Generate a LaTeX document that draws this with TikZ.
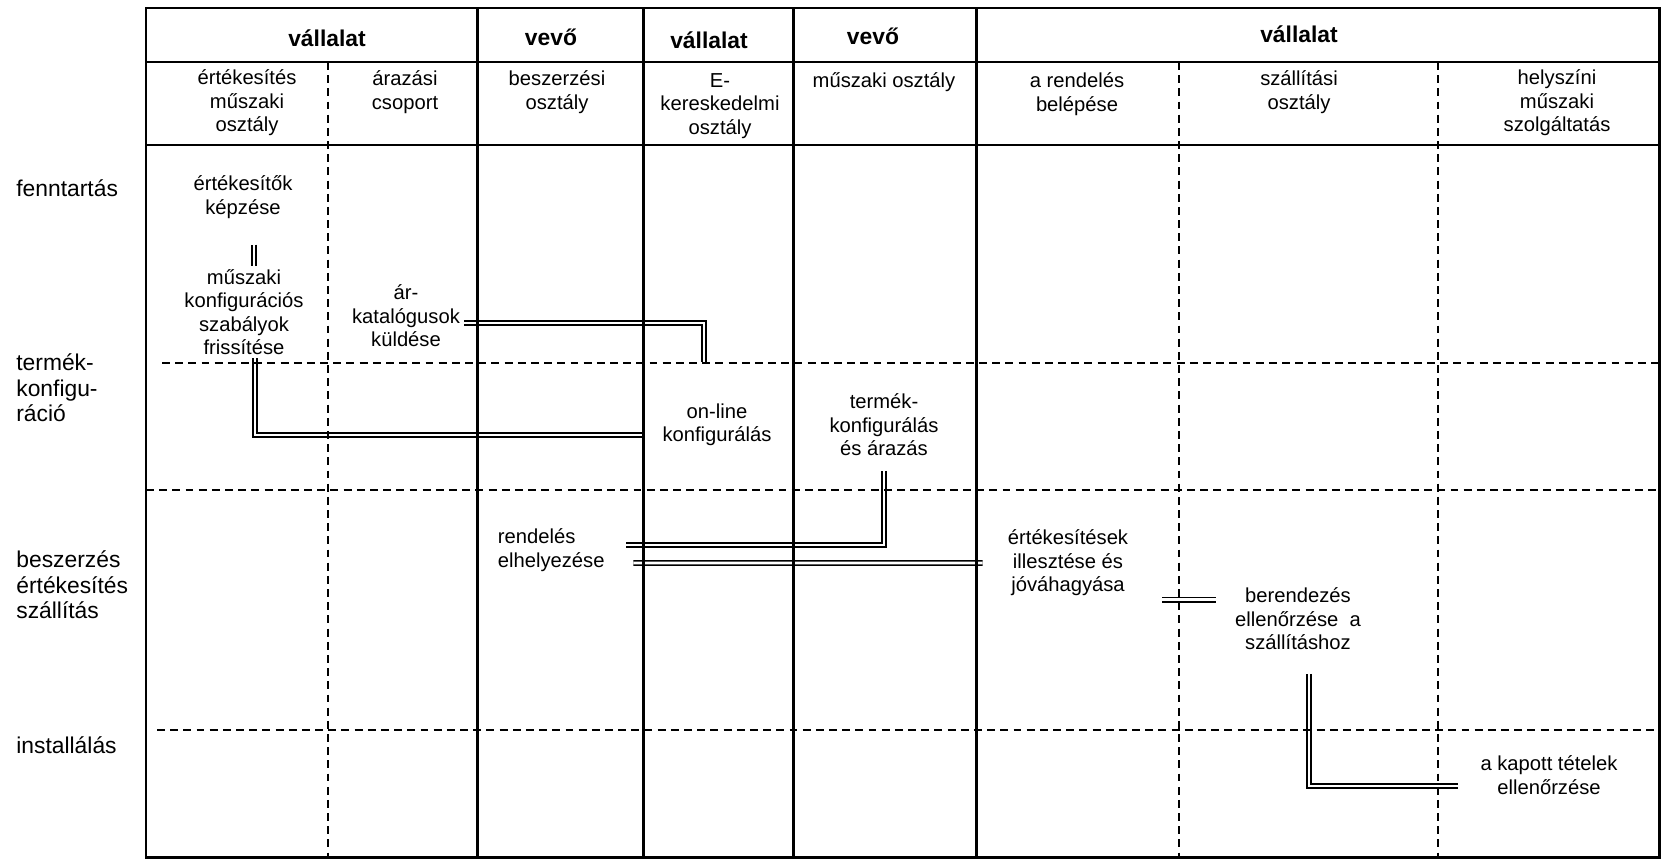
\documentclass[tikz,border=0pt]{standalone}
\usepackage{fontspec}
\setmainfont{Liberation Sans}

\begin{document}
\begin{tikzpicture}[
    x=0.02cm, y=-0.02cm,
    frame/.style={line width=1.7pt},
    rule/.style={line width=1pt},
    divider/.style={line width=1pt, dash pattern=on 4.5pt off 3pt},
    head/.style={font=\bfseries\fontsize{13}{15}\selectfont},
    dept/.style={align=center, inner sep=2pt, font=\fontsize{11.5}{13.3}\selectfont},
    task/.style={align=center, inner sep=2pt, font=\fontsize{11.5}{13.3}\selectfont},
    phase/.style={anchor=west, align=left, inner sep=0pt, font=\fontsize{13}{14.6}\selectfont},
    link/.style={double, double distance=1.6pt, line width=0.9pt}
]
    \useasboundingbox (0,0) rectangle (1662,859);

    \node[head] (hvall1) at (327,38) {vállalat};
    \node[head] (hvevo1) at (551,37) {vevő};
    \node[head] (hvall2) at (709,40) {vállalat};
    \node[head] (hvevo2) at (873,36) {vevő};
    \node[head] (hvall3) at (1299,34) {vállalat};

    \node[dept] (ert) at (247,103) {értékesítés\\műszaki\\osztály};
    \node[dept] (araz) at (405,92) {árazási\\csoport};
    \node[dept] (besz) at (557,92) {beszerzési\\osztály};
    \node[dept] (ekesk) at (720,106) {E-\\kereskedelmi\\osztály};
    \node[dept] (muszaki) at (884,82) {műszaki osztály};
    \node[dept] (rendbel) at (1077,94) {a rendelés\\belépése};
    \node[dept] (szall) at (1299,92) {szállítási\\osztály};
    \node[dept] (helysz) at (1557,103) {helyszíni\\műszaki\\szolgáltatás};

    \node[phase] (fennt) at (16,188) {fenntartás};
    \node[phase] (konfig) at (16,388) {termék-\\konfigu-\\ráció};
    \node[phase] (ertek) at (16,585) {beszerzés\\értékesítés\\szállítás};
    \node[phase] (install) at (16,745) {installálás};

    \node[task] (kepzes) at (243,197) {értékesítők\\képzése};
    \node[task] (szabaly) at (244,312) {műszaki\\konfigurációs\\szabályok\\frissítése};
    \node[task] (katalog) at (406,316) {ár-\\katalógusok\\küldése};
    \node[task] (online) at (717,425) {on-line\\konfigurálás};
    \node[task] (termkonf) at (884,425) {termék-\\konfigurálás\\és árazás};
    \node[task, anchor=west, align=left] (rendeles) at (494,550) {rendelés\\elhelyezése};
    \node[task] (illeszt) at (1068,563) {értékesítések\\illesztése és\\jóváhagyása};
    \node[task] (berend) at (1298,619) {berendezés\\ellenőrzése~ a\\szállításhoz};
    \node[task] (kapott) at (1549,775) {a kapott tételek\\ellenőrzése};

    \draw[link, shorten <=0.45cm] ([xshift=0.22cm]kepzes.south) -- ([xshift=0.2cm]szabaly.north);
    \draw[link, shorten >=0.76cm] ([yshift=-0.14cm]katalog.east) -| ([xshift=-0.26cm]online.north);
    \draw[link] ([xshift=0.22cm]szabaly.south) |- ([xshift=-0.28cm,yshift=-0.2cm]online.west);
    \draw[link, shorten <=0.22cm] (termkonf.south) |- ([xshift=0.36cm,yshift=0.1cm]rendeles.east);
    \draw[link] ([xshift=0.5cm,yshift=-0.26cm]rendeles.east) -- ([xshift=-0.43cm]illeszt.west);
    \draw[link, shorten <=0.61cm, shorten >=0.3cm] (illeszt.south east) -- (berend.west |- illeszt.south east);
    \draw[link, shorten <=0.4cm] ([xshift=0.22cm]berend.south) |- ([xshift=-0.38cm,yshift=-0.22cm]kapott.west);

    \draw[frame] (146,8) rectangle (1659,857);
    \foreach \x in {477,643,793,976}
        \draw[frame] (\x,8) -- (\x,857);
    \draw[rule] (146,62) -- (1659,62);
    \draw[rule] (146,145) -- (1659,145);
    \foreach \x in {328,1179,1438}
        \draw[divider] (\x,62) -- (\x,857);
    \draw[divider] (162,363) -- (1659,363);
    \draw[divider] (146,490) -- (1659,490);
    \draw[divider] (157,730) -- (1659,730);
\end{tikzpicture}
\end{document}
